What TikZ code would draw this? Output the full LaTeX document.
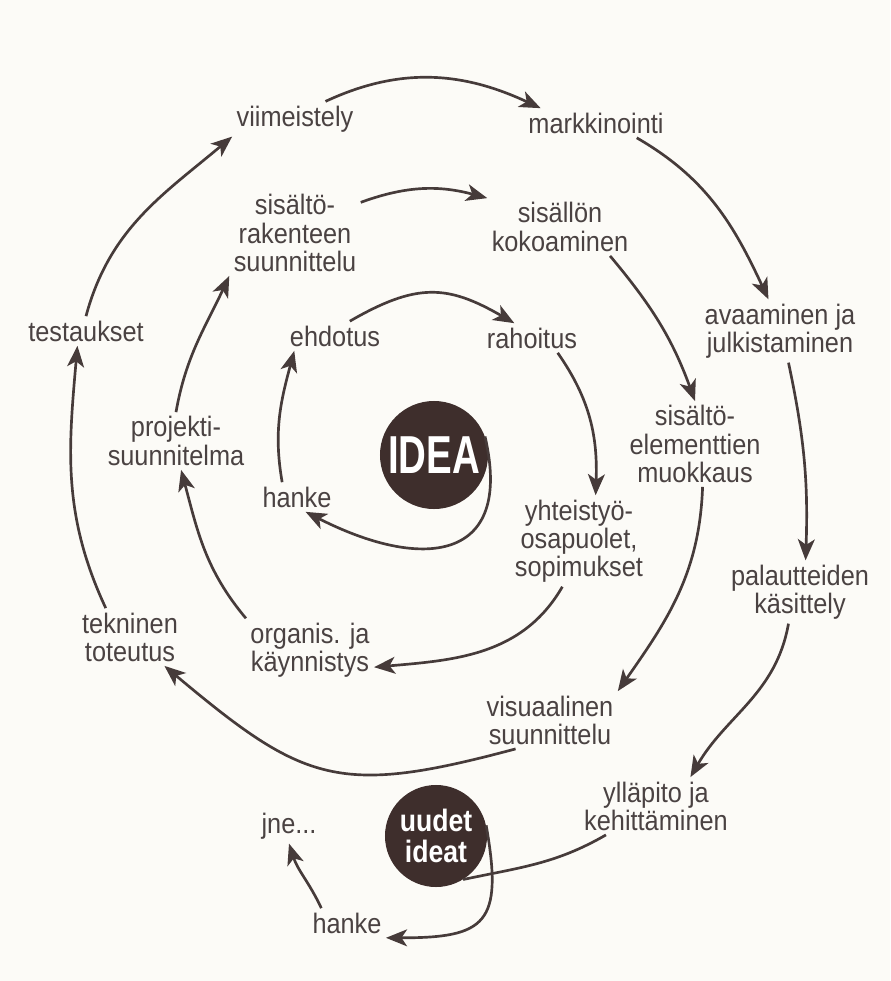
\documentclass[tikz,border=0pt]{standalone}
\usepackage{fontspec}
\setmainfont{Liberation Sans}[FakeStretch=0.9]
\newfontfamily\ideafont{Liberation Sans}[FakeStretch=0.72]
\newfontfamily\newideafont{Liberation Sans}[FakeStretch=0.86]
\usetikzlibrary{arrows.meta}

\definecolor{paper}{HTML}{FCFBF7}
\definecolor{ink}{HTML}{4A4242}
\definecolor{inkline}{HTML}{463B3A}
\definecolor{ballbrown}{HTML}{3E2E2C}

\begin{document}
\begin{tikzpicture}[
  x=0.025cm, y=0.025cm,
  lbl/.style={align=center, inner sep=3pt, text=ink, font=\fontsize{20}{20}\selectfont},
  ball/.style={circle, fill=ballbrown, text=white, inner sep=0pt, align=center},
  arrow/.style={-{Stealth[length=15pt,width=12pt,inset=4pt]}, line width=1.9pt, draw=inkline},
  link/.style={line width=1.9pt, draw=inkline}
]
\fill[paper] (0,0) rectangle (890,-981);

% outer ring
\node[lbl] (viim)   at (295,-119) {viimeistely};
\node[lbl] (mark)   at (596,-123) {markkinointi};
\node[lbl] (test)   at (86,-331)  {testaukset};
\node[lbl] (avaa)   at (780,-331) {avaaminen ja\\julkistaminen};
\node[lbl] (pal)    at (800,-592) {palautteiden\\käsittely};
\node[lbl] (tek)    at (130,-637) {tekninen\\toteutus};
\node[lbl] (yll)    at (656,-806) {ylläpito ja\\kehittäminen};

% middle ring
\node[lbl] (srak)   at (295,-233) {sisältö-\\rakenteen\\suunnittelu};
\node[lbl] (skok)   at (560,-227) {sisällön\\kokoaminen};
\node[lbl] (proj)   at (176,-441) {projekti-\\suunnitelma};
\node[lbl] (selem)  at (695,-444) {sisältö-\\elementtien\\muokkaus};
\node[lbl] (org)    at (310,-650) {organis. ja\\käynnistys};
\node[lbl] (vis)    at (550,-720) {visuaalinen\\suunnittelu};

% inner ring
\node[lbl] (ehd)    at (335,-336) {ehdotus};
\node[lbl] (rah)    at (532,-338) {rahoitus};
\node[lbl] (hankeA) at (297,-497) {hanke};
\node[lbl] (yht)    at (579,-541) {yhteistyö-\\osapuolet,\\sopimukset};

% next round
\node[lbl] (jne)    at (289,-826) {jne...};
\node[lbl] (hankeB) at (347,-923) {hanke};

\node[ball, minimum size=2.7cm, font=\ideafont\bfseries\fontsize{38}{38}\selectfont]
  (idea) at (434,-455) {IDEA};
\node[ball, minimum size=2.55cm, font=\newideafont\bfseries\fontsize{22}{21.5}\selectfont]
  (uud) at (436,-836) {uudet\\ideat};

% outer ring
\draw[arrow] (tek.130) to[out=115,in=-95] (test.-120);
\draw[arrow] (test.north) to[out=75,in=220] (viim.south west);
\draw[arrow] (viim.30) to[out=25,in=155] (mark.165);
\draw[arrow] (mark.-20) to[out=-30,in=115] (avaa.110);
\draw[arrow] (avaa.-75) to[out=-78,in=88] (pal.80);
\draw[arrow] (pal.-110) to[out=-100,in=60] (yll.40);
\draw[link] (yll.-150) to[out=-150,in=12] (uud.-58);
\draw[arrow] (uud.12) .. controls +(-80:100) and +(0:100) .. (hankeB.south east);
\draw[arrow] (hankeB.150) to[out=115,in=-72] (jne.south);

% middle ring
\draw[arrow] (org.north west) to[out=130,in=-75] (proj.-80);
\draw[arrow] (proj.north) to[out=80,in=-115] (srak.south west);
\draw[arrow] (srak.25) to[out=20,in=165] (skok.north west);
\draw[arrow] (skok.-30) to[out=-50,in=110] (selem.north);
\draw[arrow] (selem.-80) to[out=-92,in=55] (vis.north east);
\draw[arrow] (vis.-140) to[out=-165,in=-40,looseness=1.3] (tek.-40);

% inner ring
\draw[arrow] (idea.20) .. controls +(-77:130) and +(-27:130) .. (hankeA.-60);
\draw[arrow] (hankeA.135) to[out=100,in=-105] (ehd.-160);
\draw[arrow] (ehd.45) to[out=30,in=150,looseness=1.2] (rah.140);
\draw[arrow] (rah.-30) to[out=-55,in=88] (yht.70);
\draw[arrow] (yht.-110) to[out=-120,in=5] (org.-15);
\end{tikzpicture}
\end{document}
